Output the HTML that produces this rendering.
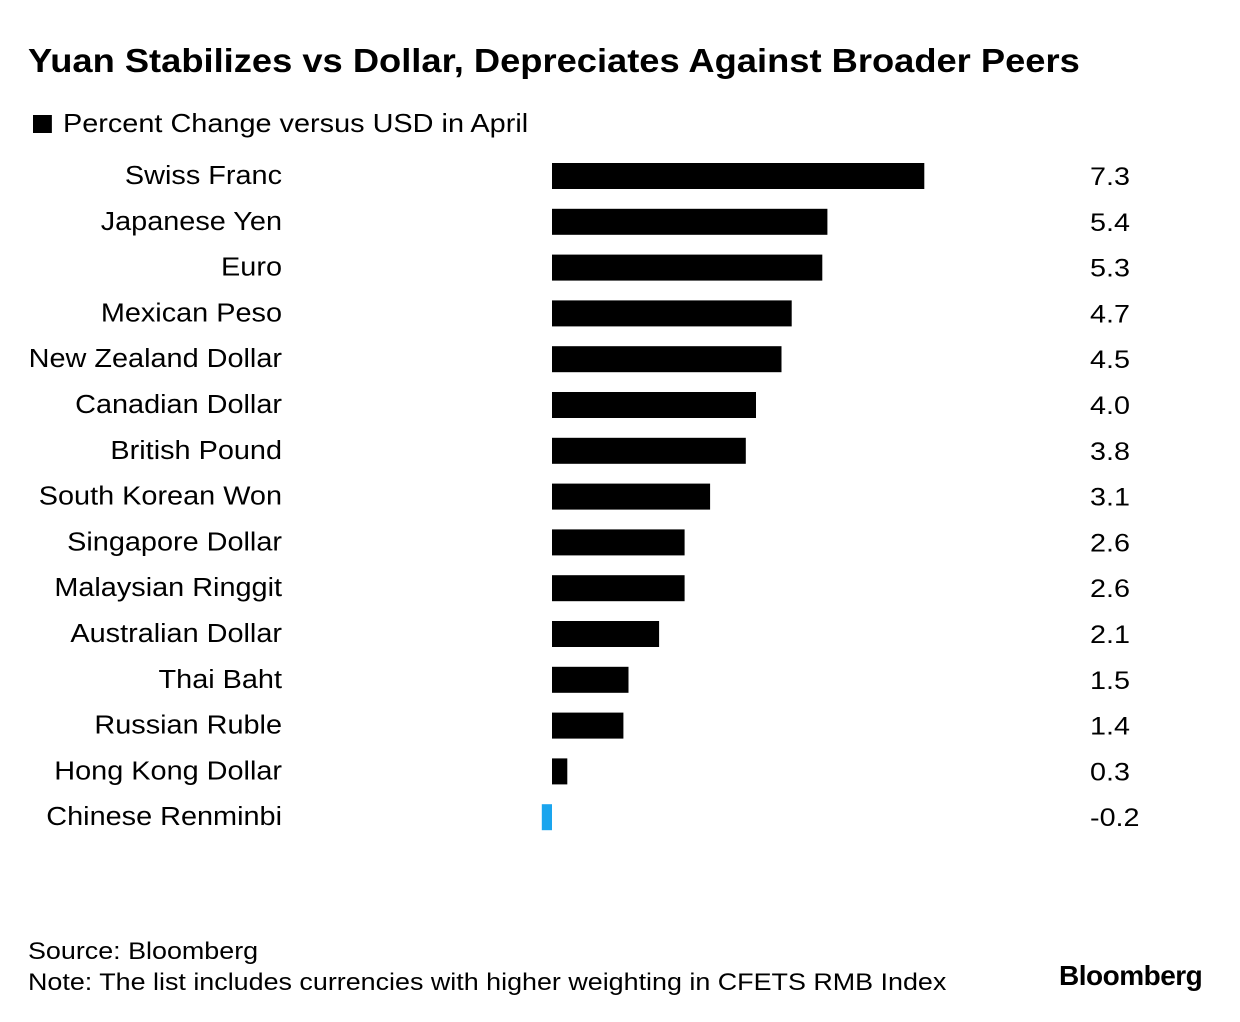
<!DOCTYPE html>
<html><head><meta charset="utf-8"><style>
body{margin:0;width:1240px;height:1022px;background:#fff;font-family:"Liberation Sans",Arial,sans-serif;color:#000;position:relative;overflow:hidden}
.t{position:absolute;white-space:nowrap;transform-origin:0 0}
</style></head><body>
<div class="t" style="left:28px;top:42px;font-size:33px;font-weight:bold;transform:scaleX(1.10)">Yuan Stabilizes vs Dollar, Depreciates Against Broader Peers</div>
<div class="t" style="left:33px;top:108px;font-size:26px;transform:scaleX(1.11)"><span style="display:inline-block;width:17px;height:18px;background:#000;margin-right:10px;vertical-align:-1px"></span>Percent Change versus USD in April</div>
<svg id="chart" width="1240" height="1022" style="position:absolute;left:0;top:0"></svg>
<div class="t" style="left:28px;top:938px;font-size:24px;transform:scaleX(1.12)">Source: Bloomberg</div>
<div class="t" style="left:28px;top:969px;font-size:24px;transform:scaleX(1.12)">Note: The list includes currencies with higher weighting in CFETS RMB Index</div>
<div class="t" style="left:1059px;top:960px;font-size:28px;font-weight:bold;letter-spacing:-0.5px">Bloomberg</div>
<script>
const categories=["Swiss Franc","Japanese Yen","Euro","Mexican Peso","New Zealand Dollar","Canadian Dollar","British Pound","South Korean Won","Singapore Dollar","Malaysian Ringgit","Australian Dollar","Thai Baht","Russian Ruble","Hong Kong Dollar","Chinese Renminbi"];
const values=[7.3,5.4,5.3,4.7,4.5,4.0,3.8,3.1,2.6,2.6,2.1,1.5,1.4,0.3,-0.2];
const valueLabels=["7.3","5.4","5.3","4.7","4.5","4.0","3.8","3.1","2.6","2.6","2.1","1.5","1.4","0.3","-0.2"];
const svg=document.getElementById('chart');const NS='http://www.w3.org/2000/svg';
const x=v=>552+v*51;
const y=i=>176+i*45.8;
categories.forEach((c,i)=>{
 const v=values[i];
 const r=document.createElementNS(NS,'rect');
 r.setAttribute('x',Math.min(x(0),x(v)));r.setAttribute('y',y(i)-13);
 r.setAttribute('width',Math.abs(x(v)-x(0)));r.setAttribute('height',26);
 r.setAttribute('fill',c==="Chinese Renminbi"?'#1aa5ee':'#000');
 
 
 svg.appendChild(r);
 const l=document.createElementNS(NS,'text');
 l.setAttribute('transform','translate(282,'+(y(i)+8)+') scale(1.11,1)');
 l.setAttribute('text-anchor','end');
 l.setAttribute('font-size','26');l.setAttribute('font-family','Liberation Sans, Arial, sans-serif');
 l.textContent=c;
 
 
 svg.appendChild(l);
 const t=document.createElementNS(NS,'text');
 t.setAttribute('transform','translate(1090,'+(y(i)+9)+') scale(1.15,1)');
 t.setAttribute('font-size','25');t.setAttribute('font-family','Liberation Sans, Arial, sans-serif');
 t.textContent=valueLabels[i];
 
 
 svg.appendChild(t);
});
</script>
</body></html>
